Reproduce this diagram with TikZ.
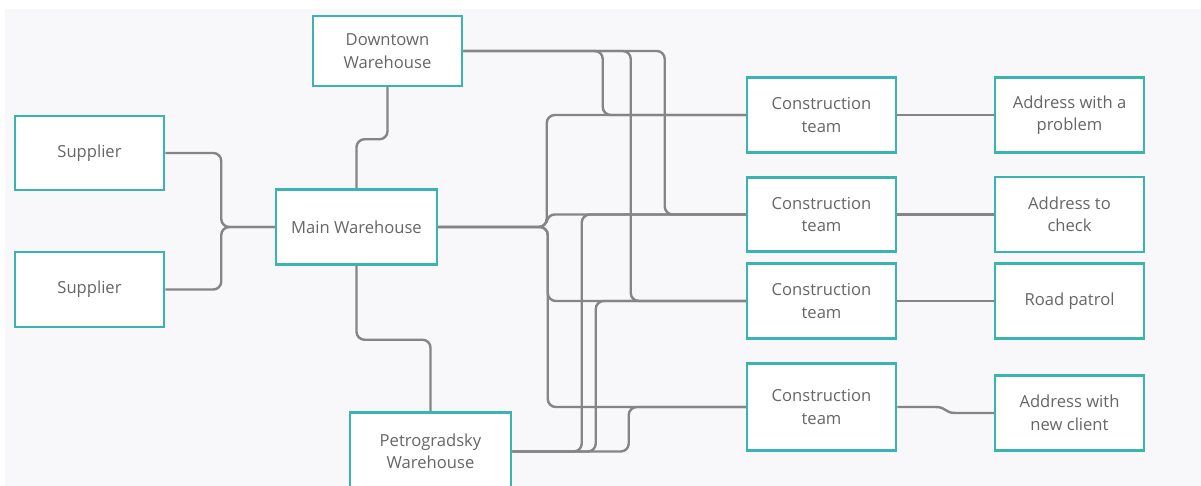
\documentclass[tikz,border=0pt]{standalone}
\usepackage{fontspec}
\setmainfont{Open Sans}
\usetikzlibrary{calc}
\definecolor{bgc}{HTML}{F8F8FA}
\definecolor{teal}{RGB}{58,180,176}
\definecolor{linec}{HTML}{858585}
\definecolor{txt}{HTML}{666666}
\tikzset{
  box/.style={draw=teal, line width=2.5pt, fill=white, align=center, inner sep=0pt,
    font=\fontsize{16.6}{22.5}\selectfont, text=txt},
  conn/.style={draw=linec, line width=2.4pt, rounded corners=8pt},
}
\begin{document}
\begin{tikzpicture}[x=1pt,y=-1pt]
\clip (0,0) rectangle (1201,486);
\fill[white] (0,0) rectangle (1201,486);
\fill[bgc] (5,9) rectangle (1201,486);
% nodes
\node[box, minimum width=149pt, minimum height=70pt] (down) at (387.5,51) {Downtown\\Warehouse};
\node[box, minimum width=149pt, minimum height=74pt] (sup1) at (89.5,153) {Supplier};
\node[box, minimum width=149pt, minimum height=75pt] (sup2) at (89.5,289.5) {Supplier};
\node[box, minimum width=161pt, minimum height=75pt] (main) at (356.5,227) {Main Warehouse};
\node[box, minimum width=161pt, minimum height=78pt] (petro) at (430.5,451.5) {Petrogradsky\\Warehouse};
\node[box, minimum width=149pt, minimum height=75pt] (ct1) at (821.5,115) {Construction\\team};
\node[box, minimum width=149pt, minimum height=74pt] (ct2) at (821.5,214.5) {Construction\\team};
\node[box, minimum width=149pt, minimum height=75pt] (ct3) at (821.5,301) {Construction\\team};
\node[box, minimum width=149pt, minimum height=87pt] (ct4) at (821.5,407) {Construction\\team};
\node[box, minimum width=149pt, minimum height=75pt] (a1) at (1069.5,115) {Address with a\\problem};
\node[box, minimum width=149pt, minimum height=75pt] (a2) at (1069.5,214.5) {Address to\\check};
\node[box, minimum width=149pt, minimum height=75pt] (a3) at (1069.5,301) {Road patrol};
\node[box, minimum width=149pt, minimum height=75pt] (a4) at (1069.5,413) {Address with\\new client};
% connectors
\path[conn] (sup1.east) -- ++(56,0) |- (main.west);
\path[conn] (sup2.east) -- ++(56,0) |- (main.west);
\path[conn] (down.south) -- ++(0,52) -| (main.north);
\path[conn] (main.south) -- ++(0,74) -| (petro.north);
\path[conn] (main.east) -| ([xshift=-199pt]ct1.west) -- (ct1.west);
\path[conn] (main.east) -| ([xshift=-199pt]ct2.west) -- (ct2.west);
\path[conn] (main.east) -| ([xshift=-198pt]ct3.west) -- (ct3.west);
\path[conn] (main.east) -| ([xshift=-198pt]ct4.west) -- (ct4.west);
\path[conn] (down.east) -| ([xshift=-143pt]ct1.west) -- (ct1.west);
\path[conn] (down.east) -| ([xshift=-115pt]ct3.west) -- (ct3.west);
\path[conn] (down.east) -| ([xshift=-81pt]ct2.west) -- (ct2.west);
\path[conn] (petro.east) -| ([xshift=-164pt]ct2.west) -- (ct2.west);
\path[conn] (petro.east) -| ([xshift=-150pt]ct3.west) -- (ct3.west);
\path[conn] (petro.east) -| ([xshift=-117pt]ct4.west) -- (ct4.west);
\path[conn] (ct1.east) -- (a1.west);
\path[conn] (ct2.east) -- (a2.west);
\path[conn] (ct3.east) -- (a3.west);
\path[conn, rounded corners=0pt] (ct4.east) -- ([xshift=38pt]ct4.east) .. controls ([xshift=50pt]ct4.east) and ([xshift=-50pt]a4.west) .. ([xshift=-38pt]a4.west) -- (a4.west);
\end{tikzpicture}
\end{document}
